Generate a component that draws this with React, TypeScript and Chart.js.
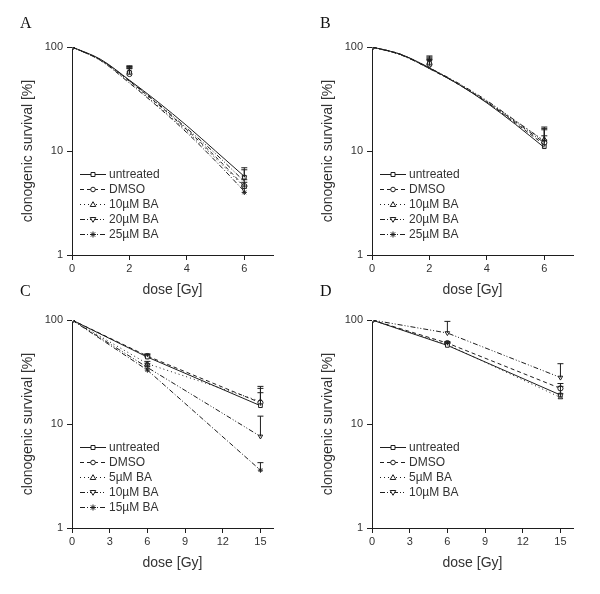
import React, { useEffect, useRef } from "react";
import { Chart, registerables } from "chart.js";
Chart.register(...registerables);

const FONT = '"Liberation Sans", Arial, Helvetica, sans-serif';
const SERIF = '"Liberation Serif", "Times New Roman", serif';
const INK = "#1e1e1e";
const TEXT = "#333333";

// ---------- Panel A ----------
const aLabels = ["untreated", "DMSO", "10µM BA", "20µM BA", "25µM BA"];
const aDose = [0, 2, 6];
const aUntreated = [100, 57, 5.6];
const aDmso = [100, 55, 4.6];
const aBa10 = [100, 58, 4.5];
const aBa20 = [100, 56, 5.6];
const aBa25 = [100, 58, 4.0];
const aErrUntreated = [null, 65, 6.9];
const aErrDmso = [null, 62, 5.3];
const aErrBa10 = [null, 64, 5.0];
const aErrBa20 = [null, 63, 6.6];
const aErrBa25 = [null, 66, 4.6];
const aFitDose = [0, 1, 2, 3, 4, 5, 6];
const aFitUntreated = [100, 76, 48, 29.5, 17.5, 10, 5.7];
const aFitDmso = [100, 75, 47, 28, 16, 8.8, 4.6];
const aFitBa10 = [100, 74, 46, 27, 15.5, 8.5, 4.5];
const aFitBa20 = [100, 75, 47.5, 28.5, 16.5, 9.4, 5.1];
const aFitBa25 = [100, 74, 45, 26.5, 15, 8, 4.1];

// ---------- Panel B ----------
const bLabels = ["untreated", "DMSO", "10µM BA", "20µM BA", "25µM BA"];
const bDose = [0, 2, 6];
const bUntreated = [100, 70, 11];
const bDmso = [100, 68, 12];
const bBa10 = [100, 72, 13];
const bBa20 = [100, 66, 12.5];
const bBa25 = [100, 74, 12];
const bErrUntreated = [null, 78, 12.5];
const bErrDmso = [null, 76, 14];
const bErrBa10 = [null, 80, 16];
const bErrBa20 = [null, 75, 17];
const bErrBa25 = [null, 82, 16.5];
const bFitDose = [0, 1, 2, 3, 4, 5, 6];
const bFitUntreated = [100, 85, 63, 44, 29, 18, 10.8];
const bFitDmso = [100, 85, 62, 44, 29.5, 18.5, 11.5];
const bFitBa10 = [100, 84, 62, 44.5, 30, 19.5, 12.5];
const bFitBa20 = [100, 85, 63, 45, 30.5, 19.5, 12.5];
const bFitBa25 = [100, 84, 62, 44, 29.5, 19, 12];

// ---------- Panel C ----------
const cLabels = ["untreated", "DMSO", "5µM BA", "10µM BA", "15µM BA"];
const cDose = [0, 6, 15];
const cUntreated = [100, 44, 15];
const cDmso = [100, 45, 16];
const cBa5 = [100, 38, 16.5];
const cBa10 = [100, 35, 7.6];
const cBa15 = [100, 33, 3.6];
const cErrUntreated = [null, 47, 22];
const cErrDmso = [null, 47, 23];
const cErrBa5 = [null, 40, 20];
const cErrBa10 = [null, 38, 11.9];
const cErrBa15 = [null, 36, 4.25];

// ---------- Panel D ----------
const dLabels = ["untreated", "DMSO", "5µM BA", "10µM BA"];
const dDose = [0, 6, 15];
const dUntreated = [100, 57, 19];
const dDmso = [100, 60, 22];
const dBa5 = [100, 58, 18];
const dBa10 = [100, 75, 28];
const dErrUntreated = [null, 60, 23];
const dErrDmso = [null, 62, 24.5];
const dErrBa5 = [null, 61, 19.5];
const dErrBa10 = [null, 97, 38];

// ticks
const yTickValues = [1, 10, 100];
const xTicksAB = [0, 2, 4, 6];
const xTicksCD = [0, 3, 6, 9, 12, 15];

const STYLES = [
  { point: "rect", rot: 0, dash: [] as number[] },
  { point: "circle", rot: 0, dash: [4, 3] },
  { point: "triangle", rot: 0, dash: [1, 3] },
  { point: "triangle", rot: 180, dash: [5, 2, 1, 2, 1, 2] },
  { point: "star", rot: 0, dash: [5, 2, 1, 2] },
];

type Series = {
  label: string;
  x: number[];
  y: number[];
  err: (number | null)[];
  fitX?: number[];
  fitY?: number[];
};

const panelA: Series[] = [
  { label: aLabels[0], x: aDose, y: aUntreated, err: aErrUntreated, fitX: aFitDose, fitY: aFitUntreated },
  { label: aLabels[1], x: aDose, y: aDmso, err: aErrDmso, fitX: aFitDose, fitY: aFitDmso },
  { label: aLabels[2], x: aDose, y: aBa10, err: aErrBa10, fitX: aFitDose, fitY: aFitBa10 },
  { label: aLabels[3], x: aDose, y: aBa20, err: aErrBa20, fitX: aFitDose, fitY: aFitBa20 },
  { label: aLabels[4], x: aDose, y: aBa25, err: aErrBa25, fitX: aFitDose, fitY: aFitBa25 },
];
const panelB: Series[] = [
  { label: bLabels[0], x: bDose, y: bUntreated, err: bErrUntreated, fitX: bFitDose, fitY: bFitUntreated },
  { label: bLabels[1], x: bDose, y: bDmso, err: bErrDmso, fitX: bFitDose, fitY: bFitDmso },
  { label: bLabels[2], x: bDose, y: bBa10, err: bErrBa10, fitX: bFitDose, fitY: bFitBa10 },
  { label: bLabels[3], x: bDose, y: bBa20, err: bErrBa20, fitX: bFitDose, fitY: bFitBa20 },
  { label: bLabels[4], x: bDose, y: bBa25, err: bErrBa25, fitX: bFitDose, fitY: bFitBa25 },
];
const panelC: Series[] = [
  { label: cLabels[0], x: cDose, y: cUntreated, err: cErrUntreated },
  { label: cLabels[1], x: cDose, y: cDmso, err: cErrDmso },
  { label: cLabels[2], x: cDose, y: cBa5, err: cErrBa5 },
  { label: cLabels[3], x: cDose, y: cBa10, err: cErrBa10 },
  { label: cLabels[4], x: cDose, y: cBa15, err: cErrBa15 },
];
const panelD: Series[] = [
  { label: dLabels[0], x: dDose, y: dUntreated, err: dErrUntreated },
  { label: dLabels[1], x: dDose, y: dDmso, err: dErrDmso },
  { label: dLabels[2], x: dDose, y: dBa5, err: dErrBa5 },
  { label: dLabels[3], x: dDose, y: dBa10, err: dErrBa10 },
];

function drawMarker(ctx: CanvasRenderingContext2D, st: any, x: number, y: number) {
  ctx.save();
  ctx.setLineDash([]);
  ctx.lineWidth = 1;
  ctx.strokeStyle = INK;
  ctx.fillStyle = "#fff";
  ctx.beginPath();
  if (st.point === "rect") {
    ctx.rect(x - 2, y - 2, 4, 4);
    ctx.fill();
    ctx.stroke();
  } else if (st.point === "circle") {
    ctx.arc(x, y, 2.3, 0, Math.PI * 2);
    ctx.fill();
    ctx.stroke();
  } else if (st.point === "triangle") {
    const s = st.rot ? -1 : 1;
    ctx.moveTo(x, y - 2.8 * s);
    ctx.lineTo(x + 2.8, y + 2 * s);
    ctx.lineTo(x - 2.8, y + 2 * s);
    ctx.closePath();
    ctx.fill();
    ctx.stroke();
  } else {
    const r = 3;
    for (let k = 0; k < 4; k++) {
      const a = (k * Math.PI) / 4;
      ctx.moveTo(x - r * Math.cos(a), y - r * Math.sin(a));
      ctx.lineTo(x + r * Math.cos(a), y + r * Math.sin(a));
    }
    ctx.stroke();
  }
  ctx.restore();
}

const errorBarPlugin = {
  id: "errorBars",
  afterDatasetsDraw(chart: any) {
    const ctx = chart.ctx;
    const yS = chart.scales.y;
    chart.data.datasets.forEach((ds: any, i: number) => {
      if (!ds.errUp) return;
      const meta = chart.getDatasetMeta(i);
      ds.errUp.forEach((e: number | null, j: number) => {
        if (e == null) return;
        const p = meta.data[j];
        const yTop = yS.getPixelForValue(e);
        ctx.save();
        ctx.strokeStyle = INK;
        ctx.lineWidth = 1;
        ctx.setLineDash([]);
        ctx.beginPath();
        ctx.moveTo(p.x, p.y);
        ctx.lineTo(p.x, yTop);
        ctx.moveTo(p.x - 3, yTop);
        ctx.lineTo(p.x + 3, yTop);
        ctx.stroke();
        ctx.restore();
      });
    });
  },
};

function makeDecor(letter: string, letterY: number, series: Series[]) {
  return {
    id: "panelDecor",
    afterDraw(chart: any) {
      const ctx = chart.ctx;
      ctx.save();
      ctx.fillStyle = "#111";
      ctx.font = `16px ${SERIF}`;
      ctx.textBaseline = "middle";
      ctx.textAlign = "left";
      ctx.fillText(letter, 20, letterY);
      const lx = 80;
      const ly = 174;
      series.forEach((s, i) => {
        const st = STYLES[i];
        const y = ly + i * 15;
        ctx.strokeStyle = INK;
        ctx.lineWidth = 1;
        ctx.setLineDash(st.dash);
        ctx.beginPath();
        ctx.moveTo(lx, y + 0.5);
        ctx.lineTo(lx + 26, y + 0.5);
        ctx.stroke();
        drawMarker(ctx, st, lx + 13, y + 0.5);
        ctx.setLineDash([]);
        ctx.fillStyle = TEXT;
        ctx.font = `12px ${FONT}`;
        ctx.textBaseline = "middle";
        ctx.fillText(s.label, lx + 29, y + 1);
      });
      ctx.restore();
    },
  };
}

function Panel(props: {
  letter: string;
  letterY: number;
  series: Series[];
  xMax: number;
  xTicks: number[];
  left: number;
  top: number;
}) {
  const ref = useRef<HTMLCanvasElement>(null);
  useEffect(() => {
    const { series, xMax, xTicks, letter, letterY } = props;
    const datasets: any[] = [];
    series.forEach((s, i) => {
      const st = STYLES[i];
      if (s.fitX && s.fitY) {
        datasets.push({
          data: s.fitX.map((x, k) => ({ x, y: s.fitY![k] })),
          showLine: true,
          pointRadius: 0,
          borderColor: INK,
          borderWidth: 1,
          borderDash: st.dash,
          cubicInterpolationMode: "monotone",
          fill: false,
        });
      }
      datasets.push({
        data: s.x.map((x, k) => ({ x, y: s.y[k] })),
        showLine: !s.fitX,
        borderColor: INK,
        borderWidth: 1,
        borderDash: st.dash,
        pointStyle: st.point,
        pointRotation: st.rot,
        pointRadius: 2.6,
        pointBackgroundColor: "#fff",
        pointBorderColor: INK,
        pointBorderWidth: 1,
        fill: false,
        errUp: s.err,
      });
    });

    const gridCfg = {
      display: true,
      drawOnChartArea: false,
      drawTicks: true,
      tickLength: 5,
      color: INK,
      lineWidth: 1,
    };

    const chart = new Chart(ref.current as HTMLCanvasElement, {
      type: "scatter",
      data: { datasets },
      options: {
        responsive: false,
        devicePixelRatio: 1,
        animation: false,
        layout: { padding: { left: 0, top: 47, right: 27, bottom: 0 } },
        plugins: { legend: { display: false }, tooltip: { enabled: false } },
        scales: {
          x: {
            type: "linear",
            min: 0,
            max: xMax,
            afterBuildTicks: (s: any) => {
              s.ticks = xTicks.map((v) => ({ value: v }));
            },
            afterFit: (s: any) => {
              s.height = 42;
            },
            border: { display: true, color: INK, width: 1 },
            grid: gridCfg,
            ticks: {
              color: TEXT,
              font: { size: 11, family: FONT },
              padding: 2,
              maxRotation: 0,
              autoSkip: false,
            },
            title: {
              display: true,
              text: "dose [Gy]",
              color: TEXT,
              font: { size: 14, family: FONT, lineHeight: 1 },
              padding: { top: 0, bottom: 0 },
            },
          },
          y: {
            type: "logarithmic",
            min: 1,
            max: 100,
            afterBuildTicks: (s: any) => {
              s.ticks = yTickValues.map((v) => ({ value: v }));
            },
            afterFit: (s: any) => {
              s.width = 72;
            },
            border: { display: true, color: INK, width: 1 },
            grid: gridCfg,
            ticks: {
              color: TEXT,
              font: { size: 11, family: FONT },
              padding: 4,
              callback: (v: any) => String(v),
            },
            title: {
              display: true,
              text: "clonogenic survival [%]",
              color: TEXT,
              font: { size: 14, family: FONT, lineHeight: 1.2 },
              padding: { top: 20, bottom: 0 },
            },
          },
        },
      } as any,
      plugins: [errorBarPlugin, makeDecor(letter, letterY, series)],
    });
    return () => chart.destroy();
  }, []);
  return (
    <canvas
      ref={ref}
      width={300}
      height={297}
      style={{
        position: "absolute",
        left: props.left,
        top: props.top,
        width: 300,
        height: 297,
        display: "block",
      }}
    />
  );
}

export default function App() {
  return (
    <div
      style={{
        position: "absolute",
        left: 0,
        top: 0,
        width: 600,
        height: 594,
        background: "#fff",
        overflow: "hidden",
      }}
    >
      <Panel letter="A" letterY={24} series={panelA} xMax={7} xTicks={xTicksAB} left={0} top={0} />
      <Panel letter="B" letterY={24} series={panelB} xMax={7} xTicks={xTicksAB} left={300} top={0} />
      <Panel letter="C" letterY={19} series={panelC} xMax={16} xTicks={xTicksCD} left={0} top={273} />
      <Panel letter="D" letterY={19} series={panelD} xMax={16} xTicks={xTicksCD} left={300} top={273} />
    </div>
  );
}
